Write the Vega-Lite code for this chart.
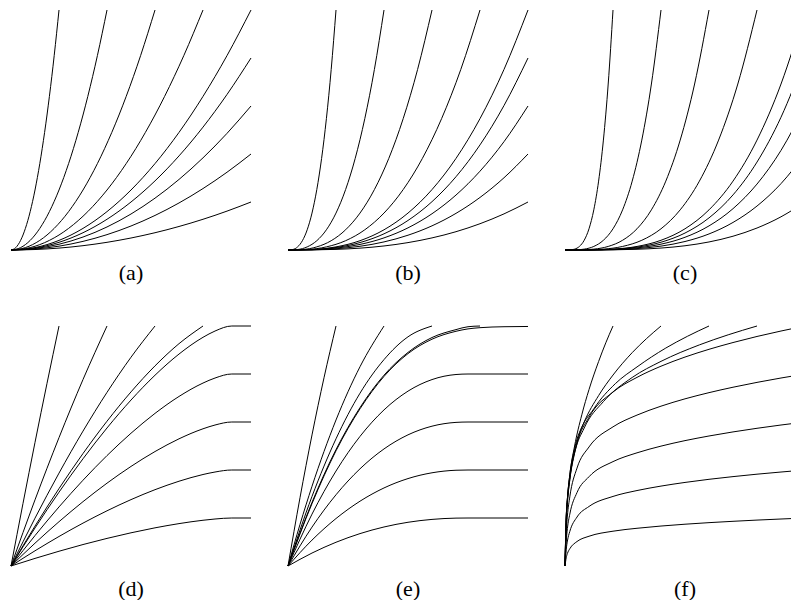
{
"$schema":"https://vega.github.io/schema/vega-lite/v6.json",
"padding":{"left":9,"top":8,"right":0,"bottom":0},
"background":"white",
"config":{"view":{"stroke":null}},
"data":{"values":[
{"p":"(a)","c":1,"x":0,"y":0},{"p":"(a)","c":1,"x":0.02,"y":0.01},{"p":"(a)","c":1,"x":0.04,"y":0.04},{"p":"(a)","c":1,"x":0.06,"y":0.09},{"p":"(a)","c":1,"x":0.08,"y":0.16},{"p":"(a)","c":1,"x":0.1,"y":0.25},{"p":"(a)","c":1,"x":0.12,"y":0.36},{"p":"(a)","c":1,"x":0.14,"y":0.49},{"p":"(a)","c":1,"x":0.16,"y":0.64},{"p":"(a)","c":1,"x":0.18,"y":0.81},{"p":"(a)","c":1,"x":0.2,"y":1},
{"p":"(a)","c":2,"x":0,"y":0},{"p":"(a)","c":2,"x":0.04,"y":0.01},{"p":"(a)","c":2,"x":0.08,"y":0.04},{"p":"(a)","c":2,"x":0.12,"y":0.09},{"p":"(a)","c":2,"x":0.16,"y":0.16},{"p":"(a)","c":2,"x":0.2,"y":0.25},{"p":"(a)","c":2,"x":0.24,"y":0.36},{"p":"(a)","c":2,"x":0.28,"y":0.49},{"p":"(a)","c":2,"x":0.32,"y":0.64},{"p":"(a)","c":2,"x":0.36,"y":0.81},{"p":"(a)","c":2,"x":0.4,"y":1},
{"p":"(a)","c":3,"x":0,"y":0},{"p":"(a)","c":3,"x":0.06,"y":0.01},{"p":"(a)","c":3,"x":0.12,"y":0.04},{"p":"(a)","c":3,"x":0.18,"y":0.09},{"p":"(a)","c":3,"x":0.24,"y":0.16},{"p":"(a)","c":3,"x":0.3,"y":0.25},{"p":"(a)","c":3,"x":0.36,"y":0.36},{"p":"(a)","c":3,"x":0.42,"y":0.49},{"p":"(a)","c":3,"x":0.48,"y":0.64},{"p":"(a)","c":3,"x":0.54,"y":0.81},{"p":"(a)","c":3,"x":0.6,"y":1},
{"p":"(a)","c":4,"x":0,"y":0},{"p":"(a)","c":4,"x":0.08,"y":0.01},{"p":"(a)","c":4,"x":0.16,"y":0.04},{"p":"(a)","c":4,"x":0.24,"y":0.09},{"p":"(a)","c":4,"x":0.32,"y":0.16},{"p":"(a)","c":4,"x":0.4,"y":0.25},{"p":"(a)","c":4,"x":0.48,"y":0.36},{"p":"(a)","c":4,"x":0.56,"y":0.49},{"p":"(a)","c":4,"x":0.64,"y":0.64},{"p":"(a)","c":4,"x":0.72,"y":0.81},{"p":"(a)","c":4,"x":0.8,"y":1},
{"p":"(a)","c":5,"x":0,"y":0},{"p":"(a)","c":5,"x":0.1,"y":0.01},{"p":"(a)","c":5,"x":0.2,"y":0.04},{"p":"(a)","c":5,"x":0.3,"y":0.09},{"p":"(a)","c":5,"x":0.4,"y":0.16},{"p":"(a)","c":5,"x":0.5,"y":0.25},{"p":"(a)","c":5,"x":0.6,"y":0.36},{"p":"(a)","c":5,"x":0.7,"y":0.49},{"p":"(a)","c":5,"x":0.8,"y":0.64},{"p":"(a)","c":5,"x":0.9,"y":0.81},{"p":"(a)","c":5,"x":1,"y":1},
{"p":"(a)","c":6,"x":0,"y":0},{"p":"(a)","c":6,"x":0.1,"y":0.008},{"p":"(a)","c":6,"x":0.2,"y":0.032},{"p":"(a)","c":6,"x":0.3,"y":0.072},{"p":"(a)","c":6,"x":0.4,"y":0.128},{"p":"(a)","c":6,"x":0.5,"y":0.2},{"p":"(a)","c":6,"x":0.6,"y":0.288},{"p":"(a)","c":6,"x":0.7,"y":0.392},{"p":"(a)","c":6,"x":0.8,"y":0.512},{"p":"(a)","c":6,"x":0.9,"y":0.648},{"p":"(a)","c":6,"x":1,"y":0.8},
{"p":"(a)","c":7,"x":0,"y":0},{"p":"(a)","c":7,"x":0.1,"y":0.006},{"p":"(a)","c":7,"x":0.2,"y":0.024},{"p":"(a)","c":7,"x":0.3,"y":0.054},{"p":"(a)","c":7,"x":0.4,"y":0.096},{"p":"(a)","c":7,"x":0.5,"y":0.15},{"p":"(a)","c":7,"x":0.6,"y":0.216},{"p":"(a)","c":7,"x":0.7,"y":0.294},{"p":"(a)","c":7,"x":0.8,"y":0.384},{"p":"(a)","c":7,"x":0.9,"y":0.486},{"p":"(a)","c":7,"x":1,"y":0.6},
{"p":"(a)","c":8,"x":0,"y":0},{"p":"(a)","c":8,"x":0.1,"y":0.004},{"p":"(a)","c":8,"x":0.2,"y":0.016},{"p":"(a)","c":8,"x":0.3,"y":0.036},{"p":"(a)","c":8,"x":0.4,"y":0.064},{"p":"(a)","c":8,"x":0.5,"y":0.1},{"p":"(a)","c":8,"x":0.6,"y":0.144},{"p":"(a)","c":8,"x":0.7,"y":0.196},{"p":"(a)","c":8,"x":0.8,"y":0.256},{"p":"(a)","c":8,"x":0.9,"y":0.324},{"p":"(a)","c":8,"x":1,"y":0.4},
{"p":"(a)","c":9,"x":0,"y":0},{"p":"(a)","c":9,"x":0.1,"y":0.002},{"p":"(a)","c":9,"x":0.2,"y":0.008},{"p":"(a)","c":9,"x":0.3,"y":0.018},{"p":"(a)","c":9,"x":0.4,"y":0.032},{"p":"(a)","c":9,"x":0.5,"y":0.05},{"p":"(a)","c":9,"x":0.6,"y":0.072},{"p":"(a)","c":9,"x":0.7,"y":0.098},{"p":"(a)","c":9,"x":0.8,"y":0.128},{"p":"(a)","c":9,"x":0.9,"y":0.162},{"p":"(a)","c":9,"x":1,"y":0.2},

{"p":"(b)","c":1,"x":0,"y":0},{"p":"(b)","c":1,"x":0.02,"y":0.002},{"p":"(b)","c":1,"x":0.04,"y":0.013},{"p":"(b)","c":1,"x":0.06,"y":0.0387},{"p":"(b)","c":1,"x":0.08,"y":0.0842},{"p":"(b)","c":1,"x":0.1,"y":0.1539},{"p":"(b)","c":1,"x":0.12,"y":0.2518},{"p":"(b)","c":1,"x":0.14,"y":0.3817},{"p":"(b)","c":1,"x":0.16,"y":0.5474},{"p":"(b)","c":1,"x":0.18,"y":0.7524},{"p":"(b)","c":1,"x":0.2,"y":1},
{"p":"(b)","c":2,"x":0,"y":0},{"p":"(b)","c":2,"x":0.04,"y":0.002},{"p":"(b)","c":2,"x":0.08,"y":0.013},{"p":"(b)","c":2,"x":0.12,"y":0.0387},{"p":"(b)","c":2,"x":0.16,"y":0.0842},{"p":"(b)","c":2,"x":0.2,"y":0.1539},{"p":"(b)","c":2,"x":0.24,"y":0.2518},{"p":"(b)","c":2,"x":0.28,"y":0.3817},{"p":"(b)","c":2,"x":0.32,"y":0.5474},{"p":"(b)","c":2,"x":0.36,"y":0.7524},{"p":"(b)","c":2,"x":0.4,"y":1},
{"p":"(b)","c":3,"x":0,"y":0},{"p":"(b)","c":3,"x":0.06,"y":0.002},{"p":"(b)","c":3,"x":0.12,"y":0.013},{"p":"(b)","c":3,"x":0.18,"y":0.0387},{"p":"(b)","c":3,"x":0.24,"y":0.0842},{"p":"(b)","c":3,"x":0.3,"y":0.1539},{"p":"(b)","c":3,"x":0.36,"y":0.2518},{"p":"(b)","c":3,"x":0.42,"y":0.3817},{"p":"(b)","c":3,"x":0.48,"y":0.5474},{"p":"(b)","c":3,"x":0.54,"y":0.7524},{"p":"(b)","c":3,"x":0.6,"y":1},
{"p":"(b)","c":4,"x":0,"y":0},{"p":"(b)","c":4,"x":0.08,"y":0.002},{"p":"(b)","c":4,"x":0.16,"y":0.013},{"p":"(b)","c":4,"x":0.24,"y":0.0387},{"p":"(b)","c":4,"x":0.32,"y":0.0842},{"p":"(b)","c":4,"x":0.4,"y":0.1539},{"p":"(b)","c":4,"x":0.48,"y":0.2518},{"p":"(b)","c":4,"x":0.56,"y":0.3817},{"p":"(b)","c":4,"x":0.64,"y":0.5474},{"p":"(b)","c":4,"x":0.72,"y":0.7524},{"p":"(b)","c":4,"x":0.8,"y":1},
{"p":"(b)","c":5,"x":0,"y":0},{"p":"(b)","c":5,"x":0.1,"y":0.002},{"p":"(b)","c":5,"x":0.2,"y":0.013},{"p":"(b)","c":5,"x":0.3,"y":0.0387},{"p":"(b)","c":5,"x":0.4,"y":0.0842},{"p":"(b)","c":5,"x":0.5,"y":0.1539},{"p":"(b)","c":5,"x":0.6,"y":0.2518},{"p":"(b)","c":5,"x":0.7,"y":0.3817},{"p":"(b)","c":5,"x":0.8,"y":0.5474},{"p":"(b)","c":5,"x":0.9,"y":0.7524},{"p":"(b)","c":5,"x":1,"y":1},
{"p":"(b)","c":6,"x":0,"y":0},{"p":"(b)","c":6,"x":0.1,"y":0.0016},{"p":"(b)","c":6,"x":0.2,"y":0.0104},{"p":"(b)","c":6,"x":0.3,"y":0.031},{"p":"(b)","c":6,"x":0.4,"y":0.0674},{"p":"(b)","c":6,"x":0.5,"y":0.1231},{"p":"(b)","c":6,"x":0.6,"y":0.2014},{"p":"(b)","c":6,"x":0.7,"y":0.3054},{"p":"(b)","c":6,"x":0.8,"y":0.4379},{"p":"(b)","c":6,"x":0.9,"y":0.6019},{"p":"(b)","c":6,"x":1,"y":0.8},
{"p":"(b)","c":7,"x":0,"y":0},{"p":"(b)","c":7,"x":0.1,"y":0.0012},{"p":"(b)","c":7,"x":0.2,"y":0.0078},{"p":"(b)","c":7,"x":0.3,"y":0.0232},{"p":"(b)","c":7,"x":0.4,"y":0.0505},{"p":"(b)","c":7,"x":0.5,"y":0.0923},{"p":"(b)","c":7,"x":0.6,"y":0.1511},{"p":"(b)","c":7,"x":0.7,"y":0.229},{"p":"(b)","c":7,"x":0.8,"y":0.3284},{"p":"(b)","c":7,"x":0.9,"y":0.4514},{"p":"(b)","c":7,"x":1,"y":0.6},
{"p":"(b)","c":8,"x":0,"y":0},{"p":"(b)","c":8,"x":0.1,"y":0.0008},{"p":"(b)","c":8,"x":0.2,"y":0.0052},{"p":"(b)","c":8,"x":0.3,"y":0.0155},{"p":"(b)","c":8,"x":0.4,"y":0.0337},{"p":"(b)","c":8,"x":0.5,"y":0.0616},{"p":"(b)","c":8,"x":0.6,"y":0.1007},{"p":"(b)","c":8,"x":0.7,"y":0.1527},{"p":"(b)","c":8,"x":0.8,"y":0.219},{"p":"(b)","c":8,"x":0.9,"y":0.301},{"p":"(b)","c":8,"x":1,"y":0.4},
{"p":"(b)","c":9,"x":0,"y":0},{"p":"(b)","c":9,"x":0.1,"y":0.0004},{"p":"(b)","c":9,"x":0.2,"y":0.0026},{"p":"(b)","c":9,"x":0.3,"y":0.0077},{"p":"(b)","c":9,"x":0.4,"y":0.0168},{"p":"(b)","c":9,"x":0.5,"y":0.0308},{"p":"(b)","c":9,"x":0.6,"y":0.0504},{"p":"(b)","c":9,"x":0.7,"y":0.0763},{"p":"(b)","c":9,"x":0.8,"y":0.1095},{"p":"(b)","c":9,"x":0.9,"y":0.1505},{"p":"(b)","c":9,"x":1,"y":0.2},

{"p":"(c)","c":1,"x":0,"y":0},{"p":"(c)","c":1,"x":0.02,"y":0.0003},{"p":"(c)","c":1,"x":0.04,"y":0.0036},{"p":"(c)","c":1,"x":0.06,"y":0.0148},{"p":"(c)","c":1,"x":0.08,"y":0.0405},{"p":"(c)","c":1,"x":0.1,"y":0.0884},{"p":"(c)","c":1,"x":0.12,"y":0.1673},{"p":"(c)","c":1,"x":0.14,"y":0.287},{"p":"(c)","c":1,"x":0.16,"y":0.458},{"p":"(c)","c":1,"x":0.18,"y":0.6916},{"p":"(c)","c":1,"x":0.2,"y":1},
{"p":"(c)","c":2,"x":0,"y":0},{"p":"(c)","c":2,"x":0.04,"y":0.0003},{"p":"(c)","c":2,"x":0.08,"y":0.0036},{"p":"(c)","c":2,"x":0.12,"y":0.0148},{"p":"(c)","c":2,"x":0.16,"y":0.0405},{"p":"(c)","c":2,"x":0.2,"y":0.0884},{"p":"(c)","c":2,"x":0.24,"y":0.1673},{"p":"(c)","c":2,"x":0.28,"y":0.287},{"p":"(c)","c":2,"x":0.32,"y":0.458},{"p":"(c)","c":2,"x":0.36,"y":0.6916},{"p":"(c)","c":2,"x":0.4,"y":1},
{"p":"(c)","c":3,"x":0,"y":0},{"p":"(c)","c":3,"x":0.06,"y":0.0003},{"p":"(c)","c":3,"x":0.12,"y":0.0036},{"p":"(c)","c":3,"x":0.18,"y":0.0148},{"p":"(c)","c":3,"x":0.24,"y":0.0405},{"p":"(c)","c":3,"x":0.3,"y":0.0884},{"p":"(c)","c":3,"x":0.36,"y":0.1673},{"p":"(c)","c":3,"x":0.42,"y":0.287},{"p":"(c)","c":3,"x":0.48,"y":0.458},{"p":"(c)","c":3,"x":0.54,"y":0.6916},{"p":"(c)","c":3,"x":0.6,"y":1},
{"p":"(c)","c":4,"x":0,"y":0},{"p":"(c)","c":4,"x":0.08,"y":0.0003},{"p":"(c)","c":4,"x":0.16,"y":0.0036},{"p":"(c)","c":4,"x":0.24,"y":0.0148},{"p":"(c)","c":4,"x":0.32,"y":0.0405},{"p":"(c)","c":4,"x":0.4,"y":0.0884},{"p":"(c)","c":4,"x":0.48,"y":0.1673},{"p":"(c)","c":4,"x":0.56,"y":0.287},{"p":"(c)","c":4,"x":0.64,"y":0.458},{"p":"(c)","c":4,"x":0.72,"y":0.6916},{"p":"(c)","c":4,"x":0.8,"y":1},
{"p":"(c)","c":5,"x":0,"y":0},{"p":"(c)","c":5,"x":0.1,"y":0.0003},{"p":"(c)","c":5,"x":0.2,"y":0.0036},{"p":"(c)","c":5,"x":0.3,"y":0.0148},{"p":"(c)","c":5,"x":0.4,"y":0.0405},{"p":"(c)","c":5,"x":0.5,"y":0.0884},{"p":"(c)","c":5,"x":0.6,"y":0.1673},{"p":"(c)","c":5,"x":0.7,"y":0.287},{"p":"(c)","c":5,"x":0.8,"y":0.458},{"p":"(c)","c":5,"x":0.9,"y":0.6916},{"p":"(c)","c":5,"x":1,"y":1},
{"p":"(c)","c":6,"x":0,"y":0},{"p":"(c)","c":6,"x":0.1,"y":0.0003},{"p":"(c)","c":6,"x":0.2,"y":0.0029},{"p":"(c)","c":6,"x":0.3,"y":0.0118},{"p":"(c)","c":6,"x":0.4,"y":0.0324},{"p":"(c)","c":6,"x":0.5,"y":0.0707},{"p":"(c)","c":6,"x":0.6,"y":0.1338},{"p":"(c)","c":6,"x":0.7,"y":0.2296},{"p":"(c)","c":6,"x":0.8,"y":0.3664},{"p":"(c)","c":6,"x":0.9,"y":0.5533},{"p":"(c)","c":6,"x":1,"y":0.8},
{"p":"(c)","c":7,"x":0,"y":0},{"p":"(c)","c":7,"x":0.1,"y":0.0002},{"p":"(c)","c":7,"x":0.2,"y":0.0022},{"p":"(c)","c":7,"x":0.3,"y":0.0089},{"p":"(c)","c":7,"x":0.4,"y":0.0243},{"p":"(c)","c":7,"x":0.5,"y":0.053},{"p":"(c)","c":7,"x":0.6,"y":0.1004},{"p":"(c)","c":7,"x":0.7,"y":0.1722},{"p":"(c)","c":7,"x":0.8,"y":0.2748},{"p":"(c)","c":7,"x":0.9,"y":0.415},{"p":"(c)","c":7,"x":1,"y":0.6},
{"p":"(c)","c":8,"x":0,"y":0},{"p":"(c)","c":8,"x":0.1,"y":0.0001},{"p":"(c)","c":8,"x":0.2,"y":0.0014},{"p":"(c)","c":8,"x":0.3,"y":0.0059},{"p":"(c)","c":8,"x":0.4,"y":0.0162},{"p":"(c)","c":8,"x":0.5,"y":0.0354},{"p":"(c)","c":8,"x":0.6,"y":0.0669},{"p":"(c)","c":8,"x":0.7,"y":0.1148},{"p":"(c)","c":8,"x":0.8,"y":0.1832},{"p":"(c)","c":8,"x":0.9,"y":0.2766},{"p":"(c)","c":8,"x":1,"y":0.4},
{"p":"(c)","c":9,"x":0,"y":0},{"p":"(c)","c":9,"x":0.1,"y":0.0001},{"p":"(c)","c":9,"x":0.2,"y":0.0007},{"p":"(c)","c":9,"x":0.3,"y":0.003},{"p":"(c)","c":9,"x":0.4,"y":0.0081},{"p":"(c)","c":9,"x":0.5,"y":0.0177},{"p":"(c)","c":9,"x":0.6,"y":0.0335},{"p":"(c)","c":9,"x":0.7,"y":0.0574},{"p":"(c)","c":9,"x":0.8,"y":0.0916},{"p":"(c)","c":9,"x":0.9,"y":0.1383},{"p":"(c)","c":9,"x":1,"y":0.2},

{"p":"(d)","c":1,"x":0,"y":0},{"p":"(d)","c":1,"x":0.05,"y":0.261},{"p":"(d)","c":1,"x":0.1,"y":0.515},{"p":"(d)","c":1,"x":0.15,"y":0.761},{"p":"(d)","c":1,"x":0.2,"y":1},
{"p":"(d)","c":2,"x":0,"y":0},{"p":"(d)","c":2,"x":0.05,"y":0.1396},{"p":"(d)","c":2,"x":0.1,"y":0.2756},{"p":"(d)","c":2,"x":0.15,"y":0.4073},{"p":"(d)","c":2,"x":0.2,"y":0.5349},{"p":"(d)","c":2,"x":0.3,"y":0.777},{"p":"(d)","c":2,"x":0.4,"y":1},
{"p":"(d)","c":3,"x":0,"y":0},{"p":"(d)","c":3,"x":0.1,"y":0.1994},{"p":"(d)","c":3,"x":0.2,"y":0.387},{"p":"(d)","c":3,"x":0.3,"y":0.5621},{"p":"(d)","c":3,"x":0.4,"y":0.7235},{"p":"(d)","c":3,"x":0.5,"y":0.8699},{"p":"(d)","c":3,"x":0.6,"y":1},
{"p":"(d)","c":4,"x":0,"y":0},{"p":"(d)","c":4,"x":0.1,"y":0.1663},{"p":"(d)","c":4,"x":0.2,"y":0.3227},{"p":"(d)","c":4,"x":0.3,"y":0.4687},{"p":"(d)","c":4,"x":0.4,"y":0.6033},{"p":"(d)","c":4,"x":0.5,"y":0.7254},{"p":"(d)","c":4,"x":0.6,"y":0.8339},{"p":"(d)","c":4,"x":0.7,"y":0.9264},{"p":"(d)","c":4,"x":0.8,"y":1},
{"p":"(d)","c":5,"x":0,"y":0},{"p":"(d)","c":5,"x":0.1,"y":0.1585},{"p":"(d)","c":5,"x":0.2,"y":0.3076},{"p":"(d)","c":5,"x":0.3,"y":0.4468},{"p":"(d)","c":5,"x":0.4,"y":0.5751},{"p":"(d)","c":5,"x":0.5,"y":0.6915},{"p":"(d)","c":5,"x":0.6,"y":0.7949},{"p":"(d)","c":5,"x":0.7,"y":0.8831},{"p":"(d)","c":5,"x":0.8,"y":0.9529},{"p":"(d)","c":5,"x":0.85,"y":0.979},{"p":"(d)","c":5,"x":0.92,"y":1},{"p":"(d)","c":5,"x":1,"y":1},
{"p":"(d)","c":6,"x":0,"y":0},{"p":"(d)","c":6,"x":0.1,"y":0.1268},{"p":"(d)","c":6,"x":0.2,"y":0.2461},{"p":"(d)","c":6,"x":0.3,"y":0.3574},{"p":"(d)","c":6,"x":0.4,"y":0.4601},{"p":"(d)","c":6,"x":0.5,"y":0.5532},{"p":"(d)","c":6,"x":0.6,"y":0.6359},{"p":"(d)","c":6,"x":0.7,"y":0.7065},{"p":"(d)","c":6,"x":0.8,"y":0.7623},{"p":"(d)","c":6,"x":0.85,"y":0.7832},{"p":"(d)","c":6,"x":0.92,"y":0.8},{"p":"(d)","c":6,"x":1,"y":0.8},
{"p":"(d)","c":7,"x":0,"y":0},{"p":"(d)","c":7,"x":0.1,"y":0.0951},{"p":"(d)","c":7,"x":0.2,"y":0.1846},{"p":"(d)","c":7,"x":0.3,"y":0.2681},{"p":"(d)","c":7,"x":0.4,"y":0.3451},{"p":"(d)","c":7,"x":0.5,"y":0.4149},{"p":"(d)","c":7,"x":0.6,"y":0.4769},{"p":"(d)","c":7,"x":0.7,"y":0.5299},{"p":"(d)","c":7,"x":0.8,"y":0.5717},{"p":"(d)","c":7,"x":0.85,"y":0.5874},{"p":"(d)","c":7,"x":0.92,"y":0.6},{"p":"(d)","c":7,"x":1,"y":0.6},
{"p":"(d)","c":8,"x":0,"y":0},{"p":"(d)","c":8,"x":0.1,"y":0.0634},{"p":"(d)","c":8,"x":0.2,"y":0.123},{"p":"(d)","c":8,"x":0.3,"y":0.1787},{"p":"(d)","c":8,"x":0.4,"y":0.23},{"p":"(d)","c":8,"x":0.5,"y":0.2766},{"p":"(d)","c":8,"x":0.6,"y":0.318},{"p":"(d)","c":8,"x":0.7,"y":0.3532},{"p":"(d)","c":8,"x":0.8,"y":0.3812},{"p":"(d)","c":8,"x":0.85,"y":0.3916},{"p":"(d)","c":8,"x":0.92,"y":0.4},{"p":"(d)","c":8,"x":1,"y":0.4},
{"p":"(d)","c":9,"x":0,"y":0},{"p":"(d)","c":9,"x":0.1,"y":0.0317},{"p":"(d)","c":9,"x":0.2,"y":0.0615},{"p":"(d)","c":9,"x":0.3,"y":0.0894},{"p":"(d)","c":9,"x":0.4,"y":0.115},{"p":"(d)","c":9,"x":0.5,"y":0.1383},{"p":"(d)","c":9,"x":0.6,"y":0.159},{"p":"(d)","c":9,"x":0.7,"y":0.1766},{"p":"(d)","c":9,"x":0.8,"y":0.1906},{"p":"(d)","c":9,"x":0.85,"y":0.1958},{"p":"(d)","c":9,"x":0.92,"y":0.2},{"p":"(d)","c":9,"x":1,"y":0.2},

{"p":"(e)","c":1,"x":0,"y":0},{"p":"(e)","c":1,"x":0.05,"y":0.2847},{"p":"(e)","c":1,"x":0.1,"y":0.5461},{"p":"(e)","c":1,"x":0.15,"y":0.7843},{"p":"(e)","c":1,"x":0.2,"y":1},
{"p":"(e)","c":2,"x":0,"y":0},{"p":"(e)","c":2,"x":0.05,"y":0.1732},{"p":"(e)","c":2,"x":0.1,"y":0.3322},{"p":"(e)","c":2,"x":0.15,"y":0.4771},{"p":"(e)","c":2,"x":0.2,"y":0.6084},{"p":"(e)","c":2,"x":0.3,"y":0.8303},{"p":"(e)","c":2,"x":0.4,"y":1},
{"p":"(e)","c":3,"x":0,"y":0},{"p":"(e)","c":3,"x":0.1,"y":0.29},{"p":"(e)","c":3,"x":0.2,"y":0.53},{"p":"(e)","c":3,"x":0.3,"y":0.72},{"p":"(e)","c":3,"x":0.4,"y":0.86},{"p":"(e)","c":3,"x":0.5,"y":0.955},{"p":"(e)","c":3,"x":0.6,"y":1},
{"p":"(e)","c":4,"x":0,"y":0},{"p":"(e)","c":4,"x":0.1,"y":0.265},{"p":"(e)","c":4,"x":0.2,"y":0.485},{"p":"(e)","c":4,"x":0.3,"y":0.66},{"p":"(e)","c":4,"x":0.4,"y":0.795},{"p":"(e)","c":4,"x":0.5,"y":0.89},{"p":"(e)","c":4,"x":0.6,"y":0.952},{"p":"(e)","c":4,"x":0.7,"y":0.985},{"p":"(e)","c":4,"x":0.75,"y":0.997},{"p":"(e)","c":4,"x":0.8,"y":1},
{"p":"(e)","c":5,"x":0,"y":0},{"p":"(e)","c":5,"x":0.1,"y":0.26},{"p":"(e)","c":5,"x":0.2,"y":0.48},{"p":"(e)","c":5,"x":0.3,"y":0.655},{"p":"(e)","c":5,"x":0.4,"y":0.79},{"p":"(e)","c":5,"x":0.5,"y":0.885},{"p":"(e)","c":5,"x":0.6,"y":0.945},{"p":"(e)","c":5,"x":0.7,"y":0.978},{"p":"(e)","c":5,"x":0.75,"y":0.988},{"p":"(e)","c":5,"x":0.8,"y":0.993},{"p":"(e)","c":5,"x":0.9,"y":0.997},{"p":"(e)","c":5,"x":1,"y":0.998},
{"p":"(e)","c":6,"x":0,"y":0},{"p":"(e)","c":6,"x":0.1,"y":0.2161},{"p":"(e)","c":6,"x":0.2,"y":0.3957},{"p":"(e)","c":6,"x":0.3,"y":0.54},{"p":"(e)","c":6,"x":0.4,"y":0.6504},{"p":"(e)","c":6,"x":0.5,"y":0.7286},{"p":"(e)","c":6,"x":0.6,"y":0.7768},{"p":"(e)","c":6,"x":0.7,"y":0.7979},{"p":"(e)","c":6,"x":0.75,"y":0.8},{"p":"(e)","c":6,"x":0.8,"y":0.8},{"p":"(e)","c":6,"x":0.9,"y":0.8},{"p":"(e)","c":6,"x":1,"y":0.8},
{"p":"(e)","c":7,"x":0,"y":0},{"p":"(e)","c":7,"x":0.1,"y":0.1621},{"p":"(e)","c":7,"x":0.2,"y":0.2968},{"p":"(e)","c":7,"x":0.3,"y":0.405},{"p":"(e)","c":7,"x":0.4,"y":0.4878},{"p":"(e)","c":7,"x":0.5,"y":0.5465},{"p":"(e)","c":7,"x":0.6,"y":0.5826},{"p":"(e)","c":7,"x":0.7,"y":0.5984},{"p":"(e)","c":7,"x":0.75,"y":0.6},{"p":"(e)","c":7,"x":0.8,"y":0.6},{"p":"(e)","c":7,"x":0.9,"y":0.6},{"p":"(e)","c":7,"x":1,"y":0.6},
{"p":"(e)","c":8,"x":0,"y":0},{"p":"(e)","c":8,"x":0.1,"y":0.108},{"p":"(e)","c":8,"x":0.2,"y":0.1978},{"p":"(e)","c":8,"x":0.3,"y":0.27},{"p":"(e)","c":8,"x":0.4,"y":0.3252},{"p":"(e)","c":8,"x":0.5,"y":0.3643},{"p":"(e)","c":8,"x":0.6,"y":0.3884},{"p":"(e)","c":8,"x":0.7,"y":0.399},{"p":"(e)","c":8,"x":0.75,"y":0.4},{"p":"(e)","c":8,"x":0.8,"y":0.4},{"p":"(e)","c":8,"x":0.9,"y":0.4},{"p":"(e)","c":8,"x":1,"y":0.4},
{"p":"(e)","c":9,"x":0,"y":0},{"p":"(e)","c":9,"x":0.1,"y":0.054},{"p":"(e)","c":9,"x":0.2,"y":0.0989},{"p":"(e)","c":9,"x":0.3,"y":0.135},{"p":"(e)","c":9,"x":0.4,"y":0.1626},{"p":"(e)","c":9,"x":0.5,"y":0.1822},{"p":"(e)","c":9,"x":0.6,"y":0.1942},{"p":"(e)","c":9,"x":0.7,"y":0.1995},{"p":"(e)","c":9,"x":0.75,"y":0.2},{"p":"(e)","c":9,"x":0.8,"y":0.2},{"p":"(e)","c":9,"x":0.9,"y":0.2},{"p":"(e)","c":9,"x":1,"y":0.2},

{"p":"(f)","c":1,"x":0,"y":0},{"p":"(f)","c":1,"x":0.005,"y":0.2},{"p":"(f)","c":1,"x":0.01,"y":0.28},{"p":"(f)","c":1,"x":0.02,"y":0.38},{"p":"(f)","c":1,"x":0.04,"y":0.5},{"p":"(f)","c":1,"x":0.07,"y":0.63},{"p":"(f)","c":1,"x":0.1,"y":0.735},{"p":"(f)","c":1,"x":0.14,"y":0.852},{"p":"(f)","c":1,"x":0.17,"y":0.93},{"p":"(f)","c":1,"x":0.2,"y":1},
{"p":"(f)","c":2,"x":0,"y":0},{"p":"(f)","c":2,"x":0.005,"y":0.2},{"p":"(f)","c":2,"x":0.01,"y":0.28},{"p":"(f)","c":2,"x":0.02,"y":0.38},{"p":"(f)","c":2,"x":0.04,"y":0.49},{"p":"(f)","c":2,"x":0.08,"y":0.6},{"p":"(f)","c":2,"x":0.14,"y":0.71},{"p":"(f)","c":2,"x":0.2,"y":0.7956},{"p":"(f)","c":2,"x":0.28,"y":0.889},{"p":"(f)","c":2,"x":0.34,"y":0.9478},{"p":"(f)","c":2,"x":0.4,"y":1},
{"p":"(f)","c":3,"x":0,"y":0},{"p":"(f)","c":3,"x":0.005,"y":0.2},{"p":"(f)","c":3,"x":0.01,"y":0.28},{"p":"(f)","c":3,"x":0.02,"y":0.37},{"p":"(f)","c":3,"x":0.03,"y":0.43},{"p":"(f)","c":3,"x":0.06,"y":0.55},{"p":"(f)","c":3,"x":0.12,"y":0.655},{"p":"(f)","c":3,"x":0.21,"y":0.76},{"p":"(f)","c":3,"x":0.3,"y":0.8294},{"p":"(f)","c":3,"x":0.42,"y":0.9082},{"p":"(f)","c":3,"x":0.51,"y":0.957},{"p":"(f)","c":3,"x":0.6,"y":1},
{"p":"(f)","c":4,"x":0,"y":0},{"p":"(f)","c":4,"x":0.005,"y":0.19},{"p":"(f)","c":4,"x":0.01,"y":0.27},{"p":"(f)","c":4,"x":0.02,"y":0.36},{"p":"(f)","c":4,"x":0.04,"y":0.47},{"p":"(f)","c":4,"x":0.08,"y":0.575},{"p":"(f)","c":4,"x":0.16,"y":0.685},{"p":"(f)","c":4,"x":0.28,"y":0.7855},{"p":"(f)","c":4,"x":0.4,"y":0.8527},{"p":"(f)","c":4,"x":0.56,"y":0.9213},{"p":"(f)","c":4,"x":0.68,"y":0.9633},{"p":"(f)","c":4,"x":0.8,"y":1},
{"p":"(f)","c":5,"x":0,"y":0},{"p":"(f)","c":5,"x":0.005,"y":0.17},{"p":"(f)","c":5,"x":0.01,"y":0.26},{"p":"(f)","c":5,"x":0.02,"y":0.36},{"p":"(f)","c":5,"x":0.05,"y":0.51},{"p":"(f)","c":5,"x":0.1,"y":0.62},{"p":"(f)","c":5,"x":0.2,"y":0.7248},{"p":"(f)","c":5,"x":0.3,"y":0.786},{"p":"(f)","c":5,"x":0.4,"y":0.8325},{"p":"(f)","c":5,"x":0.5,"y":0.8706},{"p":"(f)","c":5,"x":0.6,"y":0.9029},{"p":"(f)","c":5,"x":0.7,"y":0.9311},{"p":"(f)","c":5,"x":0.8,"y":0.9564},{"p":"(f)","c":5,"x":0.9,"y":0.9791},{"p":"(f)","c":5,"x":1,"y":1},
{"p":"(f)","c":6,"x":0,"y":0},{"p":"(f)","c":6,"x":0.005,"y":0.136},{"p":"(f)","c":6,"x":0.01,"y":0.208},{"p":"(f)","c":6,"x":0.02,"y":0.288},{"p":"(f)","c":6,"x":0.05,"y":0.408},{"p":"(f)","c":6,"x":0.1,"y":0.496},{"p":"(f)","c":6,"x":0.2,"y":0.5798},{"p":"(f)","c":6,"x":0.3,"y":0.6288},{"p":"(f)","c":6,"x":0.4,"y":0.666},{"p":"(f)","c":6,"x":0.5,"y":0.6965},{"p":"(f)","c":6,"x":0.6,"y":0.7223},{"p":"(f)","c":6,"x":0.7,"y":0.7449},{"p":"(f)","c":6,"x":0.8,"y":0.7651},{"p":"(f)","c":6,"x":0.9,"y":0.7833},{"p":"(f)","c":6,"x":1,"y":0.8},
{"p":"(f)","c":7,"x":0,"y":0},{"p":"(f)","c":7,"x":0.005,"y":0.102},{"p":"(f)","c":7,"x":0.01,"y":0.156},{"p":"(f)","c":7,"x":0.02,"y":0.216},{"p":"(f)","c":7,"x":0.05,"y":0.306},{"p":"(f)","c":7,"x":0.1,"y":0.372},{"p":"(f)","c":7,"x":0.2,"y":0.4349},{"p":"(f)","c":7,"x":0.3,"y":0.4716},{"p":"(f)","c":7,"x":0.4,"y":0.4995},{"p":"(f)","c":7,"x":0.5,"y":0.5224},{"p":"(f)","c":7,"x":0.6,"y":0.5417},{"p":"(f)","c":7,"x":0.7,"y":0.5587},{"p":"(f)","c":7,"x":0.8,"y":0.5738},{"p":"(f)","c":7,"x":0.9,"y":0.5875},{"p":"(f)","c":7,"x":1,"y":0.6},
{"p":"(f)","c":8,"x":0,"y":0},{"p":"(f)","c":8,"x":0.005,"y":0.068},{"p":"(f)","c":8,"x":0.01,"y":0.104},{"p":"(f)","c":8,"x":0.02,"y":0.144},{"p":"(f)","c":8,"x":0.05,"y":0.204},{"p":"(f)","c":8,"x":0.1,"y":0.248},{"p":"(f)","c":8,"x":0.2,"y":0.2899},{"p":"(f)","c":8,"x":0.3,"y":0.3144},{"p":"(f)","c":8,"x":0.4,"y":0.333},{"p":"(f)","c":8,"x":0.5,"y":0.3482},{"p":"(f)","c":8,"x":0.6,"y":0.3612},{"p":"(f)","c":8,"x":0.7,"y":0.3724},{"p":"(f)","c":8,"x":0.8,"y":0.3826},{"p":"(f)","c":8,"x":0.9,"y":0.3916},{"p":"(f)","c":8,"x":1,"y":0.4},
{"p":"(f)","c":9,"x":0,"y":0},{"p":"(f)","c":9,"x":0.005,"y":0.034},{"p":"(f)","c":9,"x":0.01,"y":0.052},{"p":"(f)","c":9,"x":0.02,"y":0.072},{"p":"(f)","c":9,"x":0.05,"y":0.102},{"p":"(f)","c":9,"x":0.1,"y":0.124},{"p":"(f)","c":9,"x":0.2,"y":0.145},{"p":"(f)","c":9,"x":0.3,"y":0.1572},{"p":"(f)","c":9,"x":0.4,"y":0.1665},{"p":"(f)","c":9,"x":0.5,"y":0.1741},{"p":"(f)","c":9,"x":0.6,"y":0.1806},{"p":"(f)","c":9,"x":0.7,"y":0.1862},{"p":"(f)","c":9,"x":0.8,"y":0.1913},{"p":"(f)","c":9,"x":0.9,"y":0.1958},{"p":"(f)","c":9,"x":1,"y":0.2}
]},
"facet":{"field":"p","type":"nominal","title":null,"header":{"labelOrient":"bottom","labelFont":"Liberation Serif","labelFontSize":22,"labelColor":"black","labelPadding":11}},
"columns":3,
"spacing":{"row":40,"column":33},
"spec":{
"width":240,"height":240,
"mark":{"type":"line","color":"black","strokeWidth":1,"interpolate":"monotone"},
"encoding":{
"x":{"field":"x","type":"quantitative","scale":{"domain":[0,1],"nice":false,"zero":false},"axis":null},
"y":{"field":"y","type":"quantitative","scale":{"domain":[0,1],"nice":false,"zero":false},"axis":null},
"detail":{"field":"c","type":"nominal"}
}
}
}
